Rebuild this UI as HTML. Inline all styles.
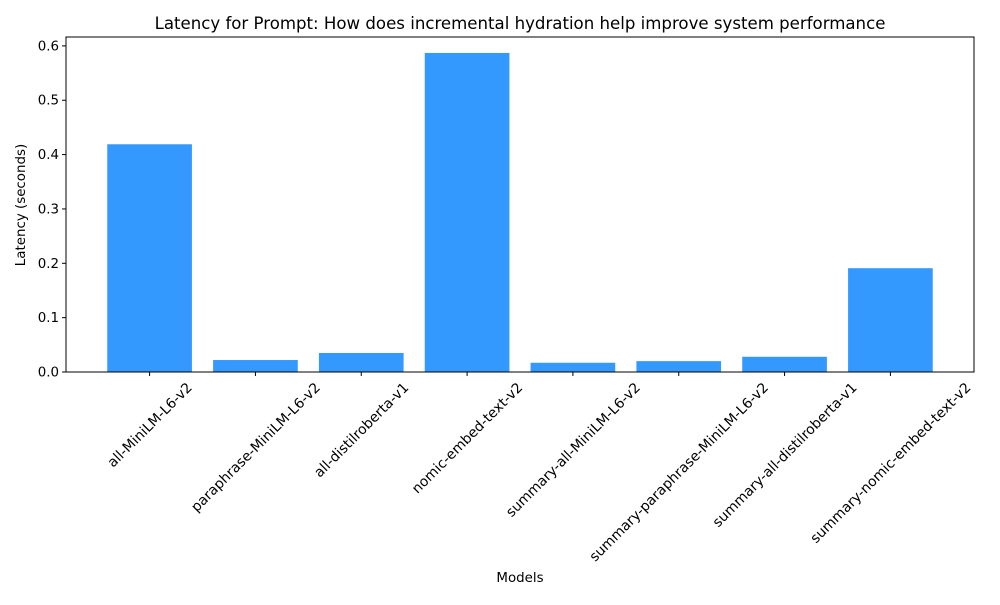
<!DOCTYPE html>
<html><head><meta charset="utf-8"><style>
html,body{margin:0;padding:0;background:#fff;}
svg text{font-family:"DejaVu Sans","Liberation Sans",sans-serif;fill:#000;}
</style></head><body>
<svg id="chart" width="1000" height="600" viewBox="0 0 1000 600">
<rect width="1000" height="600" fill="#fff"/>
<text x="520" y="29" font-size="16.6" text-anchor="middle">Latency for Prompt: How does incremental hydration help improve system performance</text>
<text x="0" y="0" font-size="13.4" text-anchor="middle" transform="translate(25,205) rotate(-90)">Latency (seconds)</text>
<text x="520" y="582" font-size="13.4" text-anchor="middle">Models</text>
<g id="bars"></g>
<g id="yticks"></g>
<g id="xticks"></g>
<rect x="66" y="37" width="908" height="335" fill="none" stroke="#000" stroke-width="1"/>
</svg>
<script>
const categories = ["all-MiniLM-L6-v2","paraphrase-MiniLM-L6-v2","all-distilroberta-v1","nomic-embed-text-v2","summary-all-MiniLM-L6-v2","summary-paraphrase-MiniLM-L6-v2","summary-all-distilroberta-v1","summary-nomic-embed-text-v2"];
const latencies = [0.419, 0.022, 0.035, 0.587, 0.017, 0.020, 0.028, 0.191];
const yTickValues = [0.0, 0.1, 0.2, 0.3, 0.4, 0.5, 0.6];
const yTickLabels = ["0.0","0.1","0.2","0.3","0.4","0.5","0.6"];

const NS = "http://www.w3.org/2000/svg";
const plotLeft = 66, plotRight = 974, plotTop = 37, plotBottom = 372;
const yMax = Math.max(...latencies) * 1.05;
function yScale(v){ return plotBottom - v / yMax * (plotBottom - plotTop); }
const xMin = -0.4 - 0.05*(categories.length - 0.2), xMax = categories.length - 0.6 + 0.05*(categories.length - 0.2);
function xScale(i){ return plotLeft + (i - xMin) / (xMax - xMin) * (plotRight - plotLeft); }
const unit = (plotRight - plotLeft) / (xMax - xMin);

const bars = document.getElementById('bars');
latencies.forEach((v, i) => {
  const r = document.createElementNS(NS, 'rect');
  r.setAttribute('x', xScale(i) - 0.4*unit);
  r.setAttribute('width', 0.8*unit);
  r.setAttribute('y', yScale(v));
  r.setAttribute('height', plotBottom - yScale(v));
  r.setAttribute('fill', '#3399ff');
  
  
  bars.appendChild(r);
});

const yt = document.getElementById('yticks');
yTickValues.forEach((v, i) => {
  const y = yScale(v);
  const l = document.createElementNS(NS, 'line');
  l.setAttribute('x1', plotLeft - 4); l.setAttribute('x2', plotLeft);
  l.setAttribute('y1', y); l.setAttribute('y2', y);
  l.setAttribute('stroke', '#000');
  
  
  yt.appendChild(l);
  const t = document.createElementNS(NS, 'text');
  t.setAttribute('x', plotLeft - 7); t.setAttribute('y', y + 4.5);
  t.setAttribute('font-size', '13.4'); t.setAttribute('text-anchor', 'end');
  t.textContent = yTickLabels[i];
  
  
  yt.appendChild(t);
});

const xt = document.getElementById('xticks');
categories.forEach((c, i) => {
  const x = xScale(i);
  const l = document.createElementNS(NS, 'line');
  l.setAttribute('x1', x); l.setAttribute('x2', x);
  l.setAttribute('y1', plotBottom); l.setAttribute('y2', plotBottom + 4);
  l.setAttribute('stroke', '#000');
  
  
  xt.appendChild(l);
  const t = document.createElementNS(NS, 'text');
  t.setAttribute('font-size', '13.9'); t.setAttribute('text-anchor', 'middle');
  t.textContent = c;
  
  
  xt.appendChild(t);
  let w = c.length * 7.9;
  try { const m = t.getComputedTextLength(); if (m > 0) w = m; } catch (e) {}
  const h = 13.9;
  const half = (w * Math.SQRT1_2 + h * Math.SQRT1_2) / 2;
  const cy = plotBottom + 8 + half;
  t.setAttribute('x', 0); t.setAttribute('y', 4.8);
  t.setAttribute('transform', 'translate(' + x + ',' + cy + ') rotate(-45)');
});
</script>
</body></html>
